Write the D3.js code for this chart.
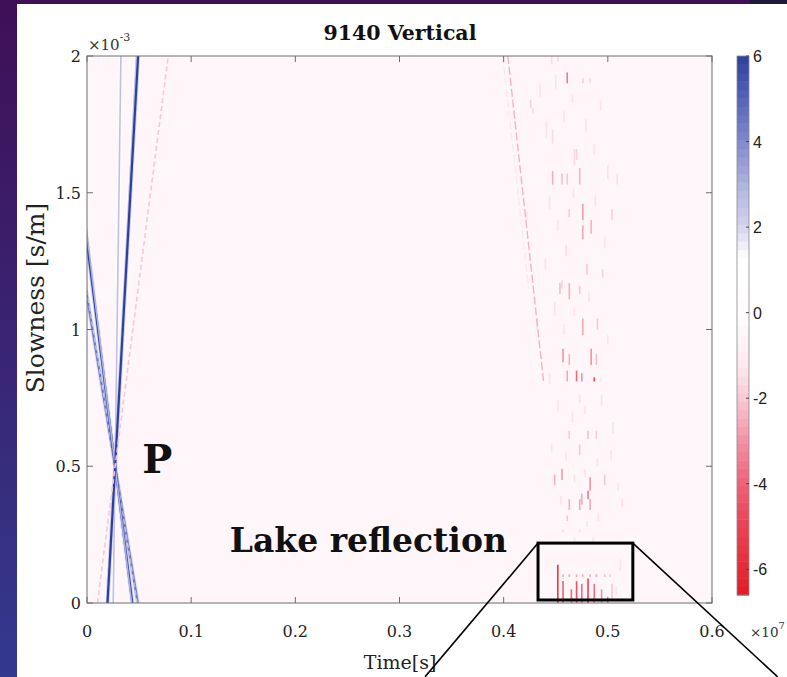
<!DOCTYPE html>
<html lang="en">
<head>
<meta charset="utf-8">
<title>9140 Vertical</title>
<script src="https://d3js.org/d3.v7.min.js"></script>
<style>
  body { margin: 0; overflow: hidden; background: #fff; }
</style>
</head>
<body>
<script>
// window size setup
var w = 787
var h = 677

// axes
var xTicks = [0, 0.1, 0.2, 0.3, 0.4, 0.5, 0.6]
var yTicks = [0, 0.5, 1, 1.5, 2]
var cbarTicks = [-6, -4, -2, 0, 2, 4, 6]

// colormap (value -> colour), amplitudes are x10^7
var cmapValues = [-6.6, -5, -4, -3, -2, -1.3, -0.5, 0, 1.3, 2, 3, 4, 5, 6]
var cmapColors = ["#e31c26", "#e94256", "#ed6179", "#f391a3", "#f9c8d3", "#fce7ed", "#fef6f9", "#fffcfd",
                  "#ffffff", "#d5d5ef", "#aeb2de", "#8189cc", "#5763b8", "#2f3f9d"]
var backgroundLevel = -0.5

// P arrivals: straight moveouts through one crossing point (time s, slowness x10^-3 s/m)
var pCross = [0.027, 0.5]
var pOffsets = [-43.5, -42.2, -33.0, -31.8, 3.7, 13.6, 14.7, 34.0]
var pAmps    = [4.4, 2.6, 6.0, 3.0, 2.6, 2.6, 6.0, -2.0]
var pDashed  = [false, true, false, false, false, false, false, true]

// faint red diagonal moveouts: [t start, s start, t end, s end]
var diagLines = [[0.404, 2.0, 0.4386, 0.80], [0.399, 2.0, 0.424, 1.15]]
var diagAmps = [-2.4, -1.2]

// short red streaks: [time, slowness low, slowness high, amplitude]
var streaks = [
  [0.461, 1.90, 1.94, -3.5], [0.476, 1.90, 1.92, -1.8], [0.483, 1.90, 1.92, -1.6],
  [0.446, 1.97, 2.00, -1.6], [0.452, 1.98, 2.00, -1.6], [0.426, 1.81, 1.84, -1.8],
  [0.428, 1.79, 1.81, -1.6], [0.447, 1.68, 1.73, -1.6], [0.468, 1.60, 1.66, -1.6],
  [0.470, 1.62, 1.66, -1.8], [0.447, 1.53, 1.58, -2.5], [0.456, 1.53, 1.57, -2.2],
  [0.461, 1.53, 1.57, -2.0], [0.473, 1.53, 1.59, -2.4], [0.509, 1.53, 1.57, -1.5],
  [0.463, 1.41, 1.44, -2.0], [0.476, 1.40, 1.46, -2.8], [0.504, 1.40, 1.44, -1.8],
  [0.484, 1.35, 1.40, -2.4], [0.476, 1.33, 1.38, -2.6], [0.422, 1.40, 1.43, -1.5],
  [0.460, 1.27, 1.31, -1.6], [0.480, 1.20, 1.24, -2.0], [0.495, 1.19, 1.22, -1.8],
  [0.456, 1.15, 1.18, -1.8], [0.454, 1.13, 1.17, -2.2], [0.463, 1.11, 1.17, -2.4],
  [0.473, 1.13, 1.16, -2.0], [0.432, 1.00, 1.04, -1.5], [0.476, 0.98, 1.04, -2.6],
  [0.490, 1.00, 1.04, -2.0], [0.457, 0.88, 0.93, -3.0], [0.463, 0.87, 0.91, -2.4],
  [0.484, 0.87, 0.93, -3.0], [0.489, 0.87, 0.91, -2.2], [0.461, 0.81, 0.85, -2.6],
  [0.470, 0.81, 0.85, -3.8], [0.475, 0.81, 0.84, -3.0], [0.487, 0.81, 0.825, -5.0],
  [0.473, 0.73, 0.76, -1.5], [0.463, 0.60, 0.63, -2.0], [0.481, 0.60, 0.63, -2.2],
  [0.489, 0.60, 0.63, -2.0], [0.473, 0.54, 0.58, -2.0], [0.456, 0.45, 0.49, -2.8],
  [0.449, 0.43, 0.47, -2.4], [0.483, 0.41, 0.46, -3.0], [0.497, 0.43, 0.47, -2.0],
  [0.481, 0.38, 0.41, -3.6], [0.475, 0.36, 0.40, -2.6], [0.463, 0.34, 0.38, -2.4],
  [0.473, 0.34, 0.38, -2.6], [0.483, 0.34, 0.38, -2.6], [0.514, 0.35, 0.38, -1.5],
  [0.461, 0.30, 0.32, -2.0], [0.457, 0.26, 0.27, -1.5], [0.473, 0.26, 0.27, -1.5],
  // faint texture
  [0.435, 1.85, 1.90, -1.4], [0.441, 1.70, 1.76, -1.4], [0.450, 1.88, 1.93, -1.4],
  [0.458, 1.76, 1.80, -1.4], [0.466, 1.83, 1.86, -1.4], [0.479, 1.72, 1.77, -1.4],
  [0.487, 1.64, 1.68, -1.4], [0.493, 1.80, 1.84, -1.4], [0.500, 1.55, 1.60, -1.4],
  [0.444, 1.44, 1.49, -1.4], [0.452, 1.36, 1.40, -1.4], [0.467, 1.48, 1.52, -1.4],
  [0.488, 1.45, 1.49, -1.4], [0.497, 1.30, 1.34, -1.4], [0.440, 1.22, 1.26, -1.4],
  [0.449, 1.05, 1.10, -1.4], [0.458, 0.98, 1.02, -1.4], [0.468, 1.05, 1.08, -1.4],
  [0.482, 1.10, 1.14, -1.4], [0.500, 0.95, 0.98, -1.4], [0.444, 0.80, 0.84, -1.4],
  [0.452, 0.70, 0.74, -1.4], [0.466, 0.66, 0.70, -1.4], [0.478, 0.69, 0.72, -1.4],
  [0.494, 0.72, 0.76, -1.4], [0.505, 0.62, 0.66, -1.4], [0.446, 0.55, 0.58, -1.4],
  [0.460, 0.52, 0.55, -1.4], [0.490, 0.50, 0.53, -1.4], [0.503, 0.52, 0.56, -1.4],
  [0.468, 0.44, 0.47, -1.4], [0.478, 0.46, 0.49, -1.4], [0.510, 0.41, 0.44, -1.4],
  [0.455, 0.36, 0.39, -1.4], [0.491, 0.30, 0.33, -1.4], [0.480, 0.28, 0.30, -1.4],
  [0.468, 0.22, 0.24, -1.4], [0.486, 0.22, 0.24, -1.4], [0.512, 0.12, 0.16, -1.4],
  [0.508, 0.03, 0.06, -1.4],
  // lake reflection
  [0.452, 0.00, 0.14, -5.5], [0.457, 0.00, 0.08, -4.0], [0.465, 0.00, 0.05, -3.8],
  [0.470, 0.00, 0.08, -4.5], [0.475, 0.00, 0.07, -3.8], [0.481, 0.00, 0.09, -5.0],
  [0.487, 0.00, 0.07, -3.8], [0.494, 0.00, 0.05, -3.0], [0.504, 0.01, 0.07, -2.0],
  [0.457, 0.095, 0.105, -2.5], [0.463, 0.095, 0.105, -2.5], [0.470, 0.095, 0.105, -2.5],
  [0.476, 0.095, 0.105, -2.5], [0.483, 0.095, 0.105, -2.5], [0.489, 0.095, 0.105, -2.5],
  [0.497, 0.095, 0.105, -2.2], [0.502, 0.095, 0.105, -2.0]
]

// annotation (data coordinates)
var zoomBox = [0.433, 0.011, 0.524, 0.219]
var zoomLinks = [[0.433, 0.219, 0.3245, -0.27], [0.524, 0.219, 0.663, -0.27]]

// scales
var xScale = d3.scaleLinear().domain([0, 0.6]).range([87, 712])
var yScale = d3.scaleLinear().domain([0, 2]).range([603, 56])
var cScale = d3.scaleLinear().domain([-6.6, 6.0]).range([595, 56])
var color = d3.scaleLinear().domain(cmapValues).range(cmapColors)
              .interpolate(d3.interpolateRgb).clamp(true)

var svg = d3.select("body").append("svg")
            .attr("width", w).attr("height", h)

// slide background
var defs = svg.append("defs")
var grad = defs.append("linearGradient").attr("id", "slide")
               .attr("x1", 0).attr("y1", 0).attr("x2", 0).attr("y2", 1)
grad.append("stop").attr("offset", "0%").attr("stop-color", "#3f0f57")
grad.append("stop").attr("offset", "100%").attr("stop-color", "#33398f")
defs.append("clipPath").attr("id", "plotClip").append("rect")
    .attr("x", 87).attr("y", 56).attr("width", 625).attr("height", 547)

svg.append("rect").attr("width", w).attr("height", h).attr("fill", "url(#slide)")
svg.append("rect").attr("x", 750).attr("y", 0).attr("width", 37).attr("height", 5).attr("fill", "#1d1a3c")
svg.append("rect").attr("x", 17).attr("y", 4).attr("width", w - 17).attr("height", h - 4).attr("fill", "#ffffff")

// plot background
svg.append("rect").attr("x", 87).attr("y", 56).attr("width", 625).attr("height", 547)
   .attr("fill", color(backgroundLevel))

var plot = svg.append("g").attr("clip-path", "url(#plotClip)")

// red streaks
plot.selectAll("line.streak").data(streaks).enter().append("line")
    .attr("class", "streak")
    .attr("x1", function(d){ return xScale(d[0]) })
    .attr("x2", function(d){ return xScale(d[0]) })
    .attr("y1", function(d){ return yScale(d[1]) })
    .attr("y2", function(d){ return yScale(d[2]) })
    .attr("stroke", function(d){ return color(d[3]) })
    .attr("stroke-width", 1.6)

// diagonal moveouts
plot.selectAll("line.diag").data(diagLines).enter().append("line")
    .attr("class", "diag")
    .attr("x1", function(d){ return xScale(d[0]) })
    .attr("y1", function(d){ return yScale(d[1]) })
    .attr("x2", function(d){ return xScale(d[2]) })
    .attr("y2", function(d){ return yScale(d[3]) })
    .attr("stroke", function(d, i){ return color(diagAmps[i]) })
    .attr("stroke-width", 1.4)
    .attr("stroke-dasharray", "8,3")

// P moveouts: soft halo then core
var pGroup = plot.append("g")
pGroup.selectAll("line.phalo").data(pOffsets).enter().append("line")
    .attr("class", "phalo")
    .attr("x1", function(d){ return xScale(pCross[0] + (0 - pCross[1]) * d * 1e-3) })
    .attr("y1", yScale(0))
    .attr("x2", function(d){ return xScale(pCross[0] + (2 - pCross[1]) * d * 1e-3) })
    .attr("y2", yScale(2))
    .attr("stroke", function(d, i){ return color(pAmps[i] * 0.5) })
    .attr("stroke-width", function(d, i){ return pDashed[i] ? 0 : 4 })
    .attr("stroke-opacity", 0.6)
pGroup.selectAll("line.p").data(pOffsets).enter().append("line")
    .attr("class", "p")
    .attr("x1", function(d){ return xScale(pCross[0] + (0 - pCross[1]) * d * 1e-3) })
    .attr("y1", yScale(0))
    .attr("x2", function(d){ return xScale(pCross[0] + (2 - pCross[1]) * d * 1e-3) })
    .attr("y2", yScale(2))
    .attr("stroke", function(d, i){ return color(pAmps[i]) })
    .attr("stroke-width", function(d, i){ return Math.abs(pAmps[i]) > 4 ? 2.2 : 1.6 })
    .attr("stroke-dasharray", function(d, i){ return pDashed[i] ? "5,3" : null })

// axes box + inward ticks
var axisColor = "#6e6e6e"
svg.append("rect").attr("x", 87).attr("y", 56).attr("width", 625).attr("height", 547)
   .attr("fill", "none").attr("stroke", axisColor).attr("stroke-width", 1)

xTicks.forEach(function(t){
  svg.append("line").attr("x1", xScale(t)).attr("x2", xScale(t))
     .attr("y1", 603).attr("y2", 597).attr("stroke", axisColor)
  svg.append("line").attr("x1", xScale(t)).attr("x2", xScale(t))
     .attr("y1", 56).attr("y2", 62).attr("stroke", axisColor)
})
yTicks.forEach(function(t){
  svg.append("line").attr("x1", 87).attr("x2", 93)
     .attr("y1", yScale(t)).attr("y2", yScale(t)).attr("stroke", axisColor)
  svg.append("line").attr("x1", 712).attr("x2", 706)
     .attr("y1", yScale(t)).attr("y2", yScale(t)).attr("stroke", axisColor)
})

var serif = "'DejaVu Serif', serif"

svg.selectAll("text.xtick").data(xTicks).enter().append("text")
   .attr("class", "xtick")
   .attr("x", function(d){ return xScale(d) })
   .attr("y", 637)
   .attr("text-anchor", "middle")
   .attr("font-family", serif).attr("font-size", "16px").attr("fill", "#222")
   .text(function(d){ return d === 0 ? "0" : d3.format(".1f")(d) })

svg.selectAll("text.ytick").data(yTicks).enter().append("text")
   .attr("class", "ytick")
   .attr("x", 81)
   .attr("y", function(d){ return yScale(d) + 6 })
   .attr("text-anchor", "end")
   .attr("font-family", serif).attr("font-size", "16px").attr("fill", "#222")
   .text(function(d){ return d })

var expo = svg.append("text").attr("x", 88).attr("y", 50)
   .attr("font-family", serif).attr("font-size", "15px").attr("fill", "#333")
expo.append("tspan").text("\u00d710")
expo.append("tspan").attr("dy", -9).attr("font-size", "11px").text("-3")

svg.append("text").attr("x", 400).attr("y", 40).attr("text-anchor", "middle")
   .attr("font-family", serif).attr("font-weight", "bold").attr("font-size", "20.5px")
   .attr("fill", "#111").text("9140 Vertical")

svg.append("text").attr("x", 400).attr("y", 669).attr("text-anchor", "middle")
   .attr("font-family", serif).attr("font-size", "19px").attr("fill", "#222").text("Time[s]")

svg.append("text").attr("transform", "translate(44,298) rotate(-90)")
   .attr("text-anchor", "middle")
   .attr("font-family", serif).attr("font-size", "25px").attr("fill", "#222").text("Slowness [s/m]")

// colorbar
var nLevels = 64
var levelStep = (cScale.domain()[1] - cScale.domain()[0]) / nLevels
svg.selectAll("rect.level").data(d3.range(nLevels)).enter().append("rect")
   .attr("class", "level")
   .attr("x", 737).attr("width", 12)
   .attr("y", function(i){ return cScale(cScale.domain()[0] + (i + 1) * levelStep) })
   .attr("height", function(i){ return cScale(cScale.domain()[0] + i * levelStep) - cScale(cScale.domain()[0] + (i + 1) * levelStep) + 0.5 })
   .attr("fill", function(i){ return color(cScale.domain()[0] + (i + 0.5) * levelStep) })
svg.append("rect").attr("x", 737).attr("y", 56).attr("width", 12).attr("height", 539)
   .attr("fill", "none").attr("stroke", "#8a8a8a").attr("stroke-width", 0.8)
cbarTicks.forEach(function(v){
  svg.append("line").attr("x1", 746).attr("x2", 749)
     .attr("y1", cScale(v)).attr("y2", cScale(v)).attr("stroke", "#444")
})
svg.selectAll("text.ctick").data(cbarTicks).enter().append("text")
   .attr("class", "ctick")
   .attr("x", 753)
   .attr("y", function(d){ return cScale(d) + 6 })
   .attr("font-family", "'Liberation Sans', Arial, sans-serif").attr("font-size", "16px").attr("fill", "#222")
   .text(function(d){ return d })
var cexpo = svg.append("text").attr("x", 750).attr("y", 637)
   .attr("font-family", serif).attr("font-size", "13.5px").attr("fill", "#333")
cexpo.append("tspan").text("\u00d710")
cexpo.append("tspan").attr("dy", -8).attr("font-size", "10px").text("7")

// annotations
svg.append("rect")
   .attr("x", xScale(zoomBox[0])).attr("y", yScale(zoomBox[3]))
   .attr("width", xScale(zoomBox[2]) - xScale(zoomBox[0]))
   .attr("height", yScale(zoomBox[1]) - yScale(zoomBox[3]))
   .attr("fill", "none").attr("stroke", "#000").attr("stroke-width", 3)
svg.selectAll("line.link").data(zoomLinks).enter().append("line")
   .attr("class", "link")
   .attr("x1", function(d){ return xScale(d[0]) }).attr("y1", function(d){ return yScale(d[1]) })
   .attr("x2", function(d){ return xScale(d[2]) }).attr("y2", function(d){ return yScale(d[3]) })
   .attr("stroke", "#000").attr("stroke-width", 1.6)

svg.append("text").attr("x", xScale(0.053)).attr("y", yScale(0.475))
   .attr("font-family", serif).attr("font-weight", "bold").attr("font-size", "40px")
   .attr("fill", "#111").text("P")
svg.append("text").attr("x", xScale(0.137)).attr("y", yScale(0.186))
   .attr("font-family", serif).attr("font-weight", "bold").attr("font-size", "33px")
   .attr("fill", "#111").text("Lake reflection")
</script>
</body>
</html>
